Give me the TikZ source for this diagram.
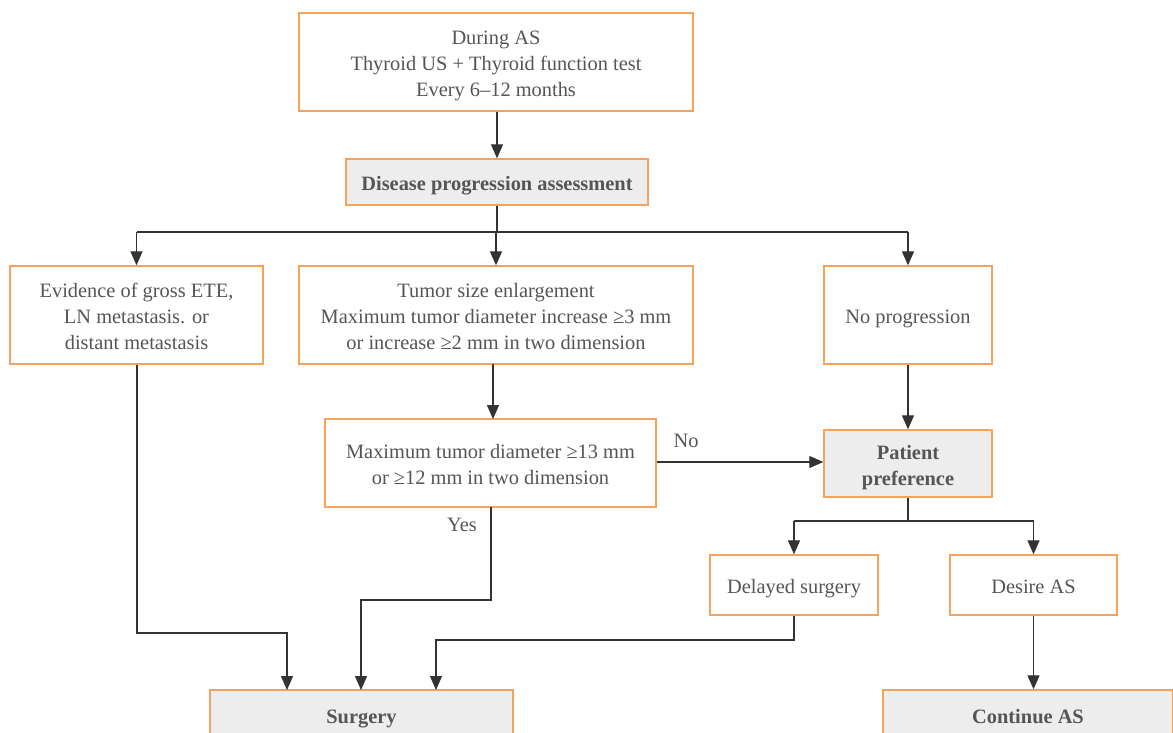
\documentclass[tikz,border=0pt]{standalone}
\usepackage{fontspec}
\setmainfont{Liberation Serif}
\usetikzlibrary{arrows.meta,calc}
\definecolor{boxorange}{HTML}{F5A25C}
\definecolor{boxgray}{HTML}{EDEDED}
\definecolor{txtgray}{HTML}{555555}
\definecolor{linegray}{HTML}{333333}
\newcommand{\dntext}[1]{\raisebox{-3.5pt}[\height][\depth]{\begin{tabular}{@{}c@{}}#1\end{tabular}}}
\tikzset{
  box/.style={draw=boxorange, line width=1.4pt, fill=white, inner sep=0pt,
    text=txtgray, font=\fontsize{20.4}{26}\selectfont},
  graybox/.style={box, fill=boxgray, font=\fontsize{20.4}{26}\selectfont\bfseries},
  conn/.style={draw=linegray, line width=1.3pt},
  arr/.style={conn, -{Triangle[length=14pt,width=12pt]}},
  lbl/.style={text=txtgray, font=\fontsize{20.4}{26}\selectfont, inner sep=0pt}
}
\begin{document}
\begin{tikzpicture}[x=1pt,y=-1pt]
\useasboundingbox (0,0) rectangle (1173,732);
\clip (0,0) rectangle (1173,732);
\node[box, minimum width=394pt, minimum height=98pt] (top) at (496,62) {\dntext{During AS\\Thyroid US + Thyroid function test\\Every 6–12 months}};
\node[graybox, minimum width=302pt, minimum height=46pt] (dpa) at (497,182) {\dntext{Disease progression assessment}};
\node[box, minimum width=253pt, minimum height=98pt] (left) at (136.5,315) {\dntext{Evidence of gross ETE,\\LN metastasis. or\\distant metastasis}};
\node[box, minimum width=394pt, minimum height=98pt] (mid) at (496,315) {\dntext{Tumor size enlargement\\Maximum tumor diameter increase ≥3 mm\\or increase ≥2 mm in two dimension}};
\node[box, minimum width=168pt, minimum height=98pt] (right) at (908,315) {\dntext{No progression}};
\node[box, minimum width=331pt, minimum height=88pt] (max) at (490.5,463) {\dntext{Maximum tumor diameter ≥13 mm\\or ≥12 mm in two dimension}};
\node[graybox, minimum width=168pt, minimum height=67pt] (pp) at (908,463.5) {\dntext{Patient\\preference}};
\node[box, minimum width=168pt, minimum height=60pt] (ds) at (794,585) {\dntext{Delayed surgery}};
\node[box, minimum width=167pt, minimum height=60pt] (das) at (1033.5,585) {\dntext{Desire AS}};
\node[graybox, minimum width=303pt, minimum height=50pt] (surg) at (361.5,715) {\dntext{Surgery}};
\node[graybox, minimum width=290pt, minimum height=50pt] (cont) at (1028,715) {\dntext{Continue AS}};

\coordinate (split) at (497,232);
\draw[arr] (top.south -| dpa.north) -- (dpa.north);
\draw[conn] (dpa.south) -- (split);
\draw[conn] (split -| left.north) -- (split -| right.north);
\draw[arr] (split -| left.north) -- (left.north);
\draw[arr] (split -| mid.north) -- (mid.north);
\draw[arr] (split -| right.north) -- (right.north);

\coordinate (lturn) at (137,633);
\draw[arr] (left.south -| lturn) -- (lturn) -- (287,633) -- (287,690);
\draw[arr] (493,364) -- (493,419);
\draw[arr] (max.east |- 0,462) -- (pp.west |- 0,462);
\node[lbl] (no) at (686,441) {No};
\draw[arr] (491,507) -- (491,600) -- (361,600) -- (361,690);
\node[lbl] (yes) at (462,525) {Yes};
\draw[arr] (right.south) -- (pp.north);
\coordinate (ppsplit) at (908,521);
\draw[conn] (pp.south) -- (ppsplit);
\draw[conn] (ds.north |- ppsplit) -- (das.north |- ppsplit);
\draw[arr] (ds.north |- ppsplit) -- (ds.north);
\draw[arr] (das.north |- ppsplit) -- (das.north);
\draw[arr] (ds.south) -- (794,640) -- (436,640) -- (436,690);
\draw[arr] (das.south) -- (das.south |- cont.north);
\end{tikzpicture}
\end{document}
